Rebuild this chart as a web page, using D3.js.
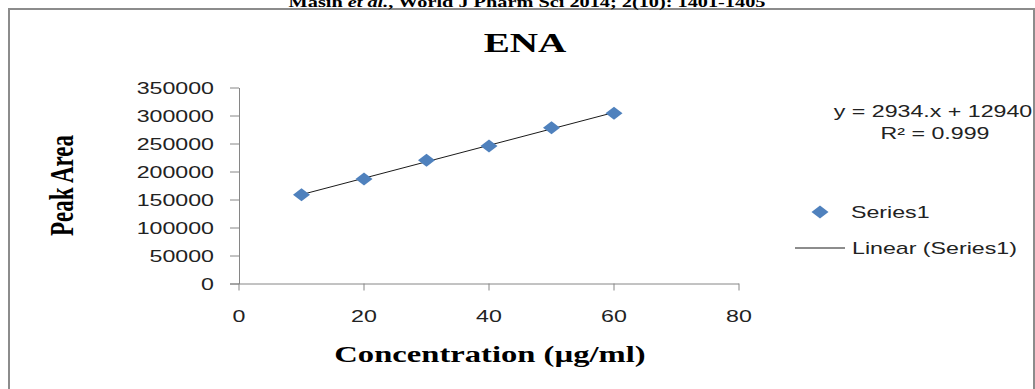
<!DOCTYPE html>
<html>
<head>
<meta charset="utf-8">
<script src="https://cdn.jsdelivr.net/npm/d3@7"></script>
<style>
  html, body { margin: 0; padding: 0; background: #fff; overflow: hidden; }
  svg { display: block; }
  .sans { font-family: "Liberation Sans", Arial, sans-serif; font-size: 16px; fill: #222; }
  .serif { font-family: "Liberation Serif", "Times New Roman", serif; font-weight: bold; fill: #000; }
</style>
</head>
<body>
<script>
// ---- data ----
const concentrations = [10, 20, 30, 40, 50, 60];
const peakAreas = [158700, 186500, 219900, 245400, 278200, 304200];
const xTicks = [0, 20, 40, 60, 80];
const yTicks = [0, 50000, 100000, 150000, 200000, 250000, 300000, 350000];
const trendSlope = 2934;
const trendIntercept = 129400;
const chartTitle = "ENA";
const xTitle = "Concentration (µg/ml)";
const yTitle = "Peak Area";
const seriesName = "Series1";
const trendName = "Linear (Series1)";
const equationText = "y = 2934.x + 12940";
const r2Text = "R² = 0.999";

// ---- layout ----
const W = 1035, H = 389;
const SX = 1.45; // horizontal glyph stretch seen in the reference
const axisColor = "#868686";
const markerColor = "#4F81BD";

const svg = d3.select("body").append("svg").attr("width", W).attr("height", H);
svg.append("rect").attr("width", W).attr("height", H).attr("fill", "#fff");

// frame
svg.append("path")
  .attr("d", `M9,${H + 2} L9,9 L1034,9 L1034,${H + 2}`)
  .attr("fill", "none").attr("stroke", "#8c8c8c").attr("stroke-width", 2);

function stretchedText(x, y, str, cls, anchor) {
  return svg.append("text")
    .attr("class", cls)
    .attr("text-anchor", anchor || "middle")
    .attr("transform", `translate(${x},${y}) scale(${SX},1)`)
    .text(str);
}

// header (cut at top)
const hdr = svg.append("text")
  .attr("class", "serif")
  .attr("text-anchor", "middle")
  .attr("font-size", 14)
  .attr("transform", `translate(527,7) scale(${SX},1)`);
hdr.append("tspan").text("Masih ");
hdr.append("tspan").attr("font-style", "italic").text("et al.");
hdr.append("tspan").text(", World J Pharm Sci 2014; 2(10): 1401-1405");

// scales
const x = d3.scaleLinear().domain([0, 80]).range([239, 739]);
const y = d3.scaleLinear().domain([0, 350000]).range([283.5, 87.5]);

// y axis
const gy = svg.append("g")
  .attr("transform", `translate(${x(0)},0)`)
  .call(d3.axisLeft(y).tickValues(yTicks).tickSize(9).tickSizeOuter(0).tickFormat(d3.format("d")));
gy.select(".domain").attr("stroke", axisColor);
gy.selectAll(".tick line").attr("stroke", axisColor);
gy.selectAll(".tick text")
  .attr("class", "sans")
  .attr("font-family", null).attr("font-size", null)
  .attr("x", -25 / SX)
  .attr("dy", "0.36em")
  .attr("transform", `scale(${SX},1)`);

// x axis
const gx = svg.append("g")
  .attr("transform", `translate(0,${y(0)})`)
  .call(d3.axisBottom(x).tickValues(xTicks).tickSize(7).tickSizeOuter(0).tickFormat(d3.format("d")));
gx.select(".domain").attr("stroke", axisColor).attr("d", `M${x(0) - 9},0.5H${x(80)}`);
gx.selectAll(".tick line").attr("stroke", axisColor);
gx.selectAll(".tick text")
  .attr("class", "sans")
  .attr("font-family", null).attr("font-size", null)
  .attr("y", 38.5).attr("dy", 0)
  .attr("transform", `scale(${SX},1)`)
  .attr("x", 0);
gx.selectAll(".tick").each(function (d) {
  d3.select(this).attr("transform", `translate(${x(d)},0)`);
});

// trend line
svg.append("line")
  .attr("x1", x(concentrations[0])).attr("y1", y(trendSlope * concentrations[0] + trendIntercept))
  .attr("x2", x(concentrations[concentrations.length - 1]))
  .attr("y2", y(trendSlope * concentrations[concentrations.length - 1] + trendIntercept))
  .attr("stroke", "#1a1a1a").attr("stroke-width", 1);

// markers
const diamond = "M0,-6.5L8.5,0L0,6.5L-8.5,0Z";
svg.append("g").selectAll("path")
  .data(concentrations.map((c, i) => [c, peakAreas[i]]))
  .join("path")
  .attr("d", diamond)
  .attr("transform", d => `translate(${x(d[0])},${y(d[1])})`)
  .attr("fill", markerColor);

// titles
stretchedText(525, 52, chartTitle, "serif").attr("font-size", 27);
stretchedText(490, 362, xTitle, "serif").attr("font-size", 22.5);
svg.append("text")
  .attr("class", "serif")
  .attr("text-anchor", "middle")
  .attr("font-size", 23)
  .attr("transform", `translate(73,185.5) rotate(-90) scale(1,${SX})`)
  .text(yTitle);

// equation
stretchedText(933, 117, equationText, "sans");
stretchedText(935, 139, r2Text, "sans");

// legend
svg.append("path").attr("d", diamond).attr("transform", "translate(820,212)").attr("fill", markerColor);
stretchedText(851, 218, seriesName, "sans", "start");
svg.append("line").attr("x1", 795).attr("x2", 845).attr("y1", 248).attr("y2", 248)
  .attr("stroke", "#1a1a1a").attr("stroke-width", 1);
stretchedText(852, 254, trendName, "sans", "start");
</script>
</body>
</html>
